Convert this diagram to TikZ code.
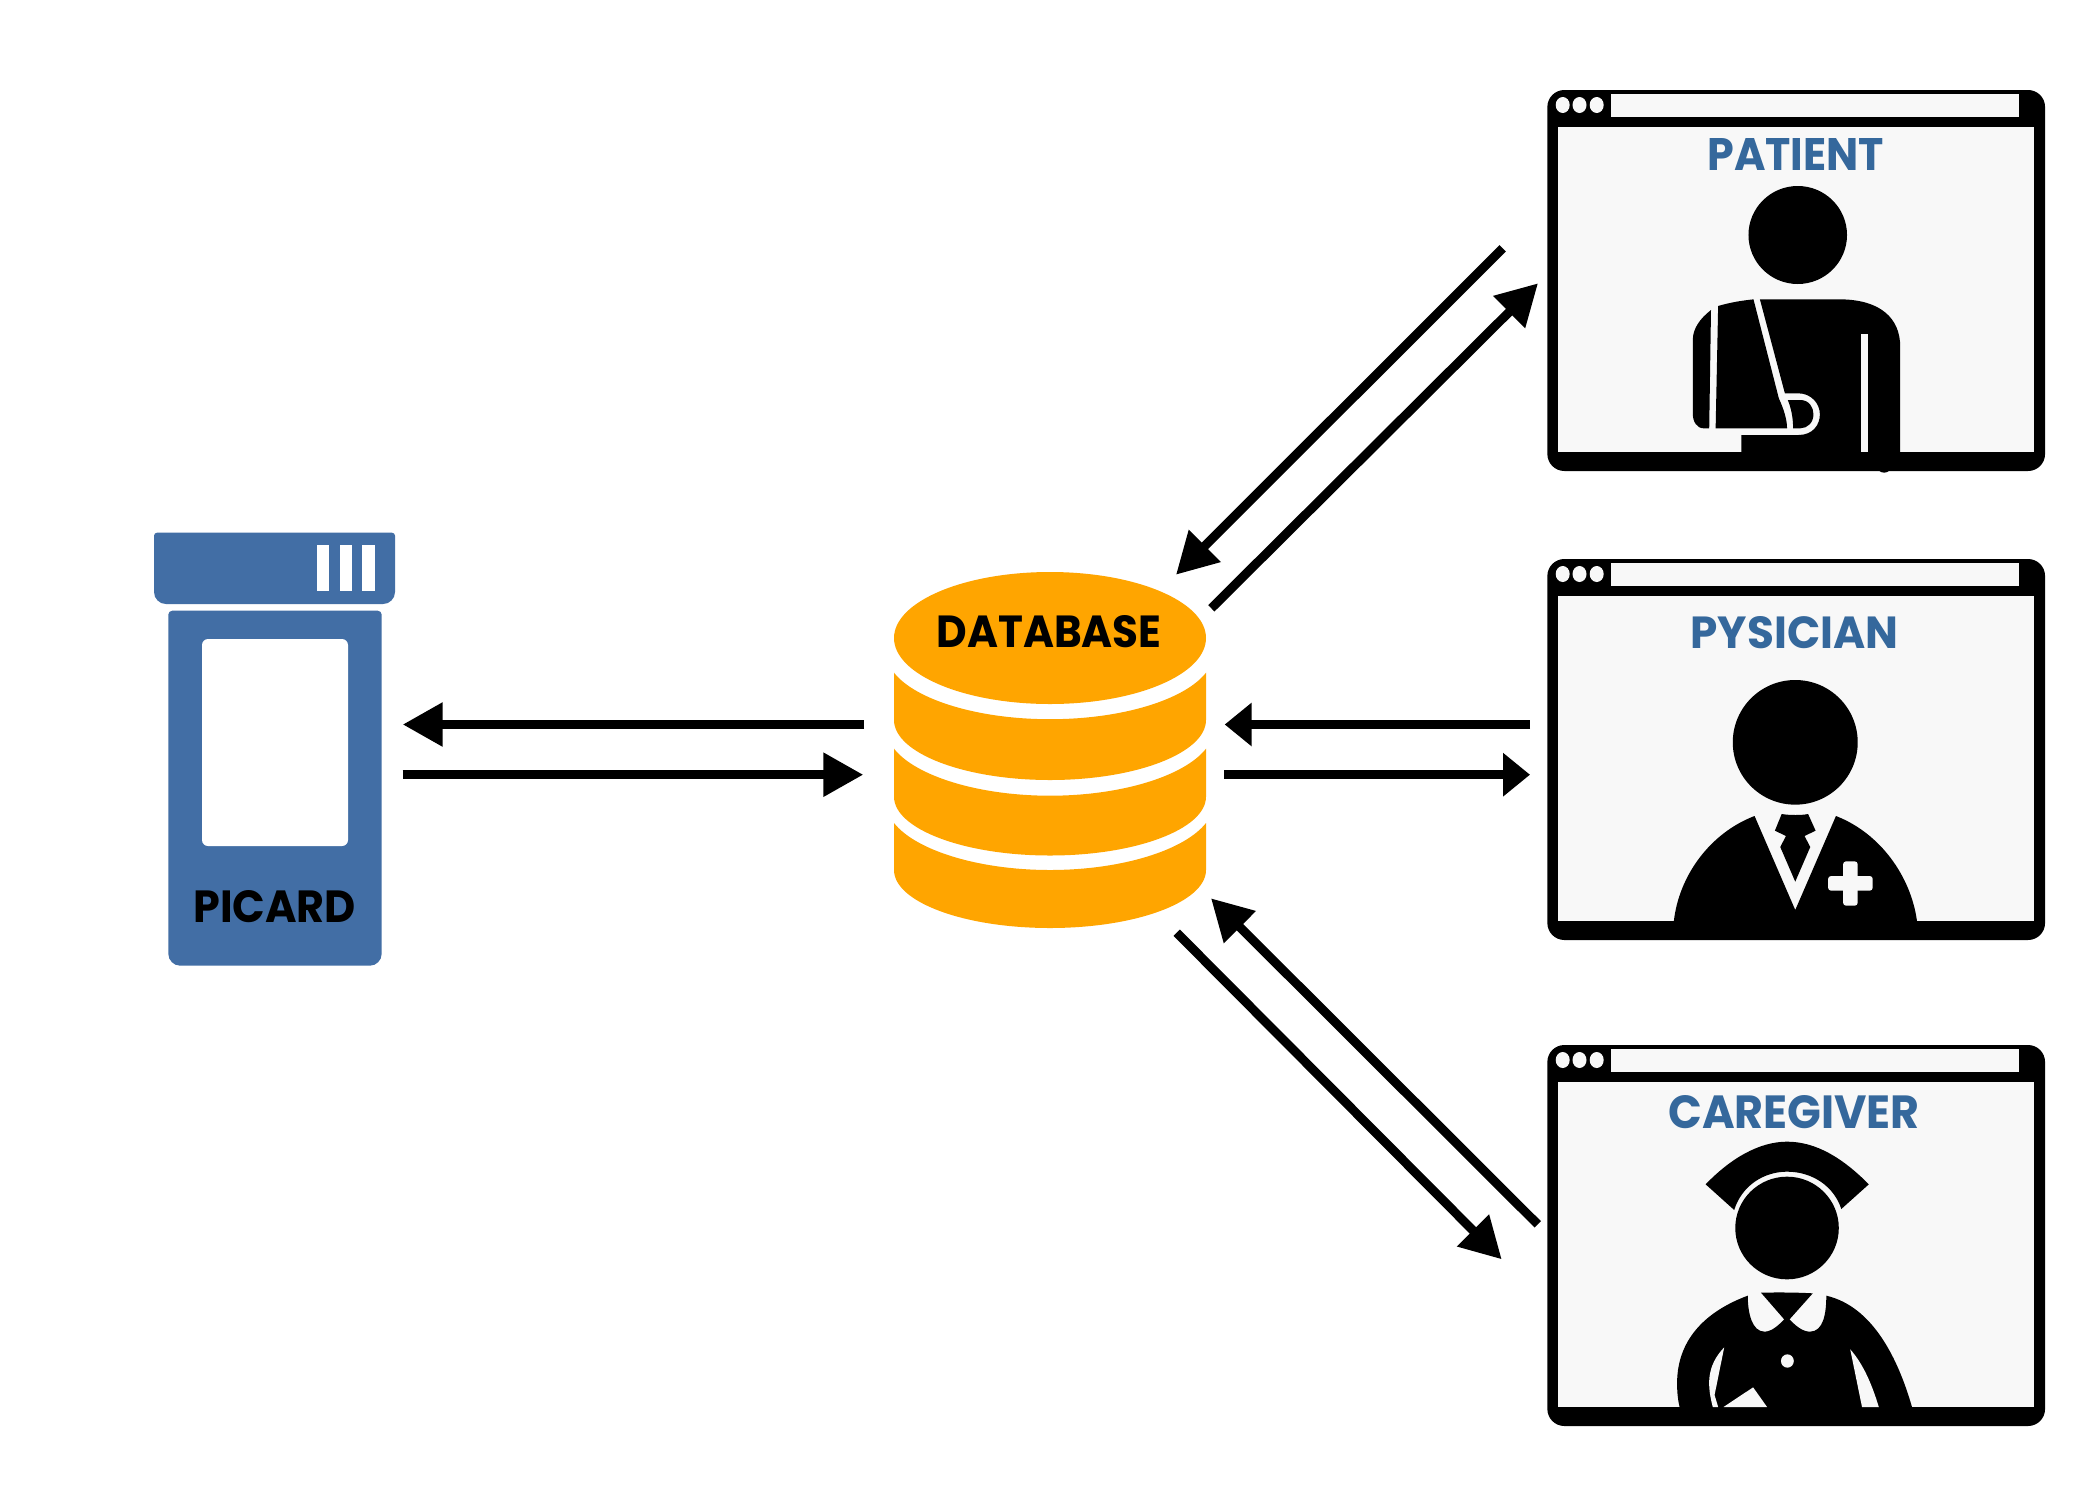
\documentclass[tikz,border=0pt]{standalone}
\usepackage{fontspec}
\usepackage{graphicx}
\usetikzlibrary{arrows.meta,shapes.geometric}
\newfontfamily\lblfont{Poppins}
\definecolor{binblue}{HTML}{426EA5}
\definecolor{txtblue}{HTML}{35689C}
\definecolor{dborange}{HTML}{FFA500}
\definecolor{winbg}{HTML}{F8F8F8}
\newcommand{\lbltext}[3]{\resizebox{#1pt}{#2pt}{\lblfont\bfseries #3}}
\tikzset{
  conn/.style={draw=black,line width=4.5pt},
  longhead/.style={conn,-{Triangle[length=20pt,width=21pt]}},
  shorthead/.style={conn,-{Triangle[length=13.5pt,width=21pt]}},
  diaghead/.style={conn,-{Triangle[length=20.4pt,width=21.5pt]}},
  winframe/.style={fill=black,rounded corners=8.5pt,minimum width=248.85pt,minimum height=190.5pt,inner sep=0pt,outer sep=0pt},
  wininner/.style={fill=winbg},
  txtlabel/.style={inner sep=0pt,outer sep=0pt},
  fig/.style={fill=black},
  figlight/.style={fill=winbg},
  dbpart/.style={fill=dborange},
}
\newcommand{\appwin}[2]{%
  \node[winframe] (#1win) at (1796.2,#2+190.5) {};
  \fill[wininner] (1557.7,#2+37) rectangle (2034,#2+362);
  \fill[wininner] (1611,#2+4) rectangle (2019,#2+27);
  \foreach \dx in {1562.7,1579.5,1596.7} {\fill[figlight] (\dx,#2+15) ellipse [x radius=7,y radius=8];}
}
\begin{document}
\begin{tikzpicture}[x=0.5pt,y=-0.5pt]
\useasboundingbox (0,0) rectangle (2100,1500);
\fill[white] (0,0) rectangle (2100,1500);

% PICARD bottle
\fill[binblue] [rounded corners=1.5pt] (154,532.7) -- (395,532.7) [rounded corners=6pt] -- (395,604) -- (154,604) [rounded corners=1.5pt] -- cycle;
\foreach \sx in {316.7,339.5,362.3} {\fill[white] (\sx,545.3) rectangle (\sx+12.7,591);}
\fill[binblue] [rounded corners=2pt] (168.3,610.7) -- (381.7,610.7) [rounded corners=6pt] -- (381.7,965.7) -- (168.3,965.7) [rounded corners=2pt] -- cycle;
\fill[white,rounded corners=3pt] (202,639) rectangle (348,846);
\node[txtlabel] (picard) at (274.7,907) {\lbltext{81.4}{16}{PICARD}};

% Database
\node[dbpart,ellipse,minimum width=156pt,minimum height=66pt,inner sep=0pt,outer sep=0pt] (db) at (1050,638) {};
\fill[dbpart] (894,672.7) .. controls (915.6,700.1) and (978.7,719.2) .. (1050,719.2) .. controls (1121.3,719.2) and (1184.4,700.1) .. (1206,672.7) -- (1206,720) .. controls (1206,753) and (1136,780) .. (1050,780) .. controls (964,780) and (894,753) .. (894,720) -- cycle;
\fill[dbpart] (894,748.7) .. controls (915.6,776.1) and (978.7,795.7) .. (1050,795.7) .. controls (1121.3,795.7) and (1184.4,776.1) .. (1206,748.7) -- (1206,796.7) .. controls (1206,829) and (1136,855.5) .. (1050,855.5) .. controls (964,855.5) and (894,829) .. (894,796.7) -- cycle;
\fill[dbpart] (894,823) .. controls (915.6,850.4) and (978.7,870) .. (1050,870) .. controls (1121.3,870) and (1184.4,850.4) .. (1206,823) -- (1206,870) .. controls (1206,902) and (1136,928) .. (1050,928) .. controls (964,928) and (894,902) .. (894,870) -- cycle;
\node[txtlabel] (dblabel) at (1049,632) {\lbltext{112.5}{16}{DATABASE}};

% Windows
\appwin{patient}{90}
\appwin{physician}{559}
\appwin{caregiver}{1045}

% Patient figure
\begin{scope}[shift={(1520,70)},xscale=0.357,yscale=0.33333]
\fill[fig] (778,495) ellipse [x radius=138,y radius=147];
\fill[fig] (672,688) -- (900,688) .. controls (1010,690) and (1065,745) .. (1065,830) -- (1065,1160) -- (620,1160) -- (620,1095) -- (780,1095) .. controls (820,1095) and (840,1065) .. (840,1033) .. controls (840,1000) and (815,970) .. (780,970) -- (742,970) -- cycle;
\fill[fig] (1020,1188) ellipse [x radius=20,y radius=20];
\fill[fig] (750,990) -- (785,990) .. controls (810,990) and (822,1012) .. (822,1033) .. controls (822,1058) and (805,1075) .. (785,1075) -- (765,1075) .. controls (765,1045) and (760,1015) .. (750,990) -- cycle;
\fill[fig] (555,708) .. controls (590,697) and (620,692) .. (654,688) -- (725,985) .. controls (740,1020) and (748,1050) .. (748,1075) -- (548,1075) -- cycle;
\fill[fig] (535,720) -- (530,1075) -- (515,1075) .. controls (495,1075) and (484,1055) .. (484,1030) -- (484,810) .. controls (484,775) and (505,745) .. (535,720) -- cycle;
\fill[figlight] (955,793) rectangle (976,1146);
\end{scope}
\node[txtlabel,text=txtblue] (patient) at (1795.8,154.2) {\lbltext{88.4}{16}{PATIENT}};

% Physician figure
\begin{scope}[shift={(1520,540)},xscale=0.357,yscale=0.33333]
\fill[fig] (771,607) ellipse [x radius=175,y radius=187];
\fill[fig] (657,828) -- (771,1110) -- (885,828) .. controls (1010,880) and (1095,1010) .. (1112,1143) -- (1112,1160) -- (431,1160) -- (431,1143) .. controls (445,1010) and (530,880) .. (657,828) -- cycle;
\fill[fig] (733,822) .. controls (755,826) and (790,826) .. (807,822) -- (828,872) -- (797,888) -- (813,921) -- (771,1025) -- (729,921) -- (745,888) -- (714,872) -- cycle;
\fill[figlight,rounded corners=1.5pt] (905,964) rectangle (946,1097);
\fill[figlight,rounded corners=1.5pt] (863,1008) rectangle (988,1052);
\end{scope}
\node[txtlabel,text=txtblue] (physician) at (1794.5,633) {\lbltext{103.9}{16}{PYSICIAN}};

% Caregiver figure
\begin{scope}[shift={(1520,1030)},xscale=0.357,yscale=0.33333]
\fill[fig] (520,463) .. controls (590,385) and (670,335) .. (748,335) .. controls (830,335) and (905,385) .. (977,463) -- (900,537) .. controls (880,470) and (820,425) .. (748,425) .. controls (680,425) and (620,470) .. (600,540) -- cycle;
\fill[fig] (748,594) ellipse [x radius=145,y radius=154];
\fill[fig] (638,797) .. controls (530,840) and (440,920) .. (440,1060) .. controls (440,1090) and (443,1115) .. (448,1135) -- (448,1150) -- (1098,1150) -- (1098,1131) .. controls (1060,990) and (990,830) .. (858,797) .. controls (858,850) and (850,905) .. (812,905) .. controls (790,905) and (770,885) .. (755,868) -- (820,790) .. controls (770,787) and (720,787) .. (675,788) -- (740,868) .. controls (725,885) and (705,905) .. (685,905) .. controls (650,905) and (638,850) .. (638,797) -- cycle;
\fill[figlight] (572,952) -- (545,1095) -- (555,1131) -- (540,1131) .. controls (525,1070) and (520,1010) .. (572,952) -- cycle;
\fill[figlight] (570,1131) -- (653,1072) -- (692,1131) -- cycle;
\fill[figlight] (925,958) -- (958,1131) -- (1005,1131) .. controls (985,1060) and (960,1000) .. (925,958) -- cycle;
\fill[figlight] (749,993) ellipse [x radius=18,y radius=20];
\end{scope}
\node[txtlabel,text=txtblue] (caregiver) at (1794,1112.3) {\lbltext{125.8}{16.5}{CAREGIVER}};

% Connector end points
\coordinate (picIn) at (402.7,724.5);
\coordinate (dbOutL) at (864,724.5);
\coordinate (picOut) at (402.7,774.7);
\coordinate (dbInL) at (863.3,774.7);
\coordinate (dbInR) at (1224.7,724.5);
\coordinate (phyOut) at (1530,724.5);
\coordinate (dbOutR) at (1224,774.7);
\coordinate (phyIn) at (1530,774.7);
\coordinate (patOut) at (1502.7,248.3);
\coordinate (dbInT) at (1176,574.7);
\coordinate (dbOutT) at (1211.3,608.3);
\coordinate (patIn) at (1538,283.3);
\coordinate (carOut) at (1537.7,1224.3);
\coordinate (dbInB) at (1211,898.3);
\coordinate (dbOutB) at (1176.7,932.7);
\coordinate (carIn) at (1501.7,1259.3);

% Connectors
\draw[longhead] (dbOutL) -- (picIn);
\draw[longhead] (picOut) -- (dbInL);
\draw[shorthead] (phyOut) -- (dbInR);
\draw[shorthead] (dbOutR) -- (phyIn);
\draw[diaghead] (patOut) -- (dbInT);
\draw[diaghead] (dbOutT) -- (patIn);
\draw[diaghead] (carOut) -- (dbInB);
\draw[diaghead] (dbOutB) -- (carIn);
\end{tikzpicture}
\end{document}
